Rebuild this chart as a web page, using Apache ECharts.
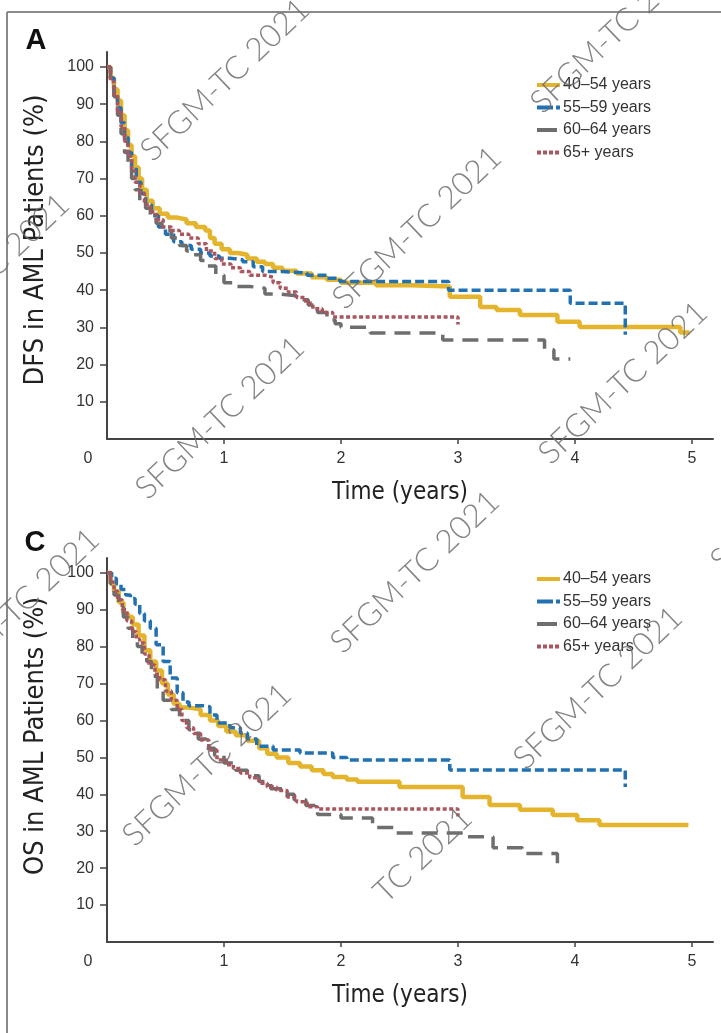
<!DOCTYPE html>
<html>
<head>
<meta charset="utf-8">
<script src="https://cdn.jsdelivr.net/npm/echarts@6/dist/echarts.min.js"></script>
<style>
  html, body { margin: 0; padding: 0; background: #fff; }
  #chart { width: 721px; height: 1033px; }
</style>
</head>
<body>
<div id="chart"></div>
<script>
// Age groups (legend entries)
const groupNames = ['40–54 years', '55–59 years', '60–64 years', '65+ years'];
const xTicks = [0, 1, 2, 3, 4, 5];
const yTicks = [10, 20, 30, 40, 50, 60, 70, 80, 90, 100];

// Disease-free survival, Kaplan–Meier steps: [years, %]
const dfs4054 = [[0,100],[0.03,97],[0.06,94],[0.09,91],[0.12,87],[0.15,83],[0.18,79],[0.21,76],[0.24,73],[0.27,70],[0.30,67],[0.34,64],[0.39,62],[0.45,60.5],[0.52,59.5],[0.60,59],[0.68,58],[0.76,57],[0.84,56],[0.88,54],[0.92,52.5],[0.98,51],[1.05,50],[1.12,49.5],[1.20,48.5],[1.28,47.6],[1.35,47],[1.42,46],[1.50,45.2],[1.62,44.5],[1.75,43.5],[1.88,42.8],[2.0,42],[2.3,41.3],[2.6,41],[2.93,38.2],[3.19,35.5],[3.33,34.7],[3.53,33.3],[3.85,31.5],[4.04,30.1],[4.90,28.6],[4.98,28.6]];
const dfs5559 = [[0,100],[0.03,97],[0.06,93],[0.09,89],[0.12,85],[0.15,81],[0.18,77],[0.21,73],[0.25,69],[0.29,66],[0.33,63],[0.38,60],[0.44,57],[0.50,55],[0.57,53],[0.64,52],[0.72,51],[0.80,50],[0.88,49.2],[0.96,48.6],[1.05,48.2],[1.16,47.6],[1.25,46.3],[1.33,45],[1.50,44.6],[1.71,44],[1.88,43.2],[1.99,42.3],[2.92,40],[3.96,36.5],[4.43,28]];
const dfs6064 = [[0,100],[0.03,96],[0.06,92],[0.09,87],[0.12,82],[0.15,77],[0.18,73],[0.21,70],[0.24,67],[0.28,64],[0.33,62],[0.37,60],[0.42,58],[0.47,56],[0.55,54],[0.62,52],[0.68,50.5],[0.74,49.5],[0.80,48],[0.86,46.5],[0.93,44],[1.0,42],[1.1,41],[1.22,40.5],[1.35,39],[1.45,38.5],[1.62,37.4],[1.72,36],[1.80,34],[1.88,32],[1.95,31],[2.0,30],[2.25,28.5],[2.87,26.6],[3.74,24],[3.82,21.5],[3.96,21.5]];
const dfs65 = [[0,100],[0.03,96],[0.06,92],[0.09,88],[0.12,84],[0.15,80],[0.18,76],[0.21,72],[0.24,69],[0.28,66],[0.32,63],[0.37,61],[0.42,59],[0.48,57],[0.55,56],[0.62,55],[0.70,54],[0.78,52.5],[0.85,50.5],[0.92,48.5],[0.98,47],[1.06,46],[1.14,45],[1.22,44],[1.35,43.5],[1.42,42],[1.48,40.5],[1.55,39.5],[1.62,38],[1.70,36.5],[1.76,35],[1.84,34],[1.93,32.8],[3.0,30.8]];

// Overall survival, Kaplan–Meier steps: [years, %]
const os4054 = [[0,100],[0.03,97],[0.06,95],[0.10,92],[0.14,89],[0.18,88],[0.22,86],[0.27,83],[0.32,79],[0.37,76],[0.42,73.5],[0.47,70],[0.52,67],[0.57,64.5],[0.62,63.5],[0.70,63],[0.80,61.5],[0.88,60],[0.95,58.5],[1.02,57],[1.10,56],[1.20,54.5],[1.30,52.5],[1.37,51],[1.45,50],[1.55,48.5],[1.65,47.5],[1.75,46.5],[1.85,45.5],[1.93,44.7],[2.05,44],[2.14,43.4],[2.5,42],[3.04,39.3],[3.27,37.1],[3.53,35.8],[3.81,34.4],[4.02,33],[4.21,31.7],[4.97,31.7]];
const os5559 = [[0,100],[0.04,98.5],[0.08,97],[0.12,95.5],[0.16,94],[0.20,93],[0.24,91.5],[0.28,89],[0.32,87],[0.37,85],[0.42,80.5],[0.48,76],[0.54,71.5],[0.60,67.5],[0.65,65],[0.70,64],[0.82,63.7],[0.88,61.5],[0.94,59.3],[1.05,58],[1.14,56.6],[1.20,55],[1.28,53],[1.42,52],[1.65,51.2],[1.93,50],[2.05,49.3],[2.93,46.6],[4.43,42]];
const os6064 = [[0,100],[0.03,97],[0.06,94],[0.10,91],[0.14,88],[0.18,85],[0.22,82],[0.26,80],[0.30,78],[0.34,76],[0.38,72],[0.43,68],[0.48,65.5],[0.55,63],[0.62,60],[0.70,57.5],[0.78,55],[0.85,52.5],[0.92,50.5],[1.0,48.5],[1.1,46.5],[1.2,45],[1.3,43.5],[1.4,41.5],[1.5,40],[1.6,38.5],[1.7,37],[1.8,34.5],[2.0,33.6],[2.27,31],[2.45,29.5],[3.05,28.5],[3.3,25.5],[3.55,24],[3.85,20.5],[3.88,20.5]];
const os65 = [[0,100],[0.03,97.5],[0.06,95],[0.09,92.7],[0.13,90],[0.17,87],[0.21,84],[0.25,82],[0.28,81],[0.32,78],[0.36,75],[0.41,72.5],[0.45,71],[0.50,68],[0.55,65.5],[0.60,63],[0.64,60],[0.68,58],[0.74,56.5],[0.80,54.7],[0.87,52],[0.94,49.3],[1.02,48],[1.08,47],[1.14,45.8],[1.22,44.5],[1.30,43],[1.37,42],[1.45,41],[1.54,39.3],[1.62,38],[1.71,36.6],[1.80,36],[3.0,34]];

// Watermark stamps: [centerX, centerY, text]
const stamps = [
  [225, 80, 'SFGM-TC 2021'],
  [-15, 275, 'SFGM-TC 2021'],
  [417, 228, 'SFGM-TC 2021'],
  [615, 32, 'SFGM-TC 2021'],
  [220, 418, 'SFGM-TC 2021'],
  [623, 383, 'SFGM-TC 2021'],
  [415, 572, 'SFGM-TC 2021'],
  [598, 688, 'SFGM-TC 2021'],
  [207, 765, 'SFGM-TC 2021'],
  [15, 610, 'SFGM-TC 2021'],
  [423, 855, 'TC 2021'],
  [795, 490, 'SFGM-TC 2021']
];

const styles = [
  { color: '#E3B42C', width: 4.5, type: 'solid',  icon: 'path://M0,0H23V4H0Z' },
  { color: '#2271B0', width: 3.5, type: [9, 4],   icon: 'path://M0,0H16V4H0Z M19,0H23V4H19Z' },
  { color: '#6E6E6E', width: 3.5, type: [16, 9],  icon: 'path://M0,0H20V4H0Z M22.9,0H23V4H22.9Z' },
  { color: '#A9565E', width: 3.5, type: [4, 2.5], icon: 'path://M0,0H4V4H0Z M6,0H10V4H6Z M12,0H16V4H12Z M18,0H22V4H18Z M22.9,0H23V4H22.9Z' }
];

const tickFont = 'Liberation Sans, Arial, sans-serif';
const titleFont = '"Liberation Sans Narrow", "DejaVu Sans Condensed", "Liberation Sans", sans-serif';

function xAxisFor(gridIndex) {
  return {
    type: 'value', gridIndex, min: 0, max: 5.18, interval: 1,
    name: 'Time (years)', nameLocation: 'middle', nameGap: 42,
    nameTextStyle: { fontFamily: titleFont, fontSize: 24, color: '#222', padding: [0, 20, 0, 0] },
    axisLine: { lineStyle: { color: '#444', width: 2 } },
    axisTick: { show: true, length: 5, lineStyle: { color: '#444', width: 1.5 },
      customValues: xTicks.filter(v => v > 0) },
    axisLabel: {
      fontFamily: tickFont, fontSize: 16, color: '#333', margin: 12,
      customValues: xTicks,
      formatter: v => v === 0 ? '{z|0}' : String(v),
      rich: { z: { fontFamily: tickFont, fontSize: 16, color: '#333', padding: [0, 38, 0, 0] } }
    },
    splitLine: { show: false }
  };
}

function yAxisFor(gridIndex) {
  return {
    type: 'value', gridIndex, min: 0, max: 104, interval: 10,
    axisLine: { show: true, lineStyle: { color: '#444', width: 2 } },
    axisTick: { show: true, length: 7, lineStyle: { color: '#444', width: 1.5 }, customValues: yTicks },
    axisLabel: { fontFamily: tickFont, fontSize: 16, color: '#333', margin: 13, customValues: yTicks },
    splitLine: { show: false }
  };
}

function seriesFor(idx, list) {
  return list.map((data, i) => ({
    type: 'line', name: groupNames[i], xAxisIndex: idx, yAxisIndex: idx,
    data, step: 'end', showSymbol: false, symbol: 'none', animation: false,
    lineStyle: { color: styles[i].color, width: styles[i].width, type: styles[i].type, cap: 'butt' },
    itemStyle: { color: styles[i].color },
    z: 2 + i
  }));
}

function legendFor(top) {
  return {
    orient: 'vertical', left: 537, top, padding: 0, itemWidth: 23, itemHeight: 4, itemGap: 4.5,
    selectedMode: false,
    textStyle: { fontFamily: tickFont, fontSize: 16, color: '#333', lineHeight: 18, padding: [0, 0, 0, -2] },
    data: groupNames.map((n, i) => ({ name: n, icon: styles[i].icon, itemStyle: { color: styles[i].color } }))
  };
}

function label(text, x, y, opts) {
  return Object.assign({ type: 'text', x, y, silent: true,
    style: Object.assign({ text, fill: '#111', align: 'center', verticalAlign: 'middle' }, opts.style) },
    opts.rotation ? { rotation: opts.rotation } : {}, opts.z ? { z: opts.z } : {});
}

const chart = echarts.init(document.getElementById('chart'), null, { renderer: 'canvas' });

const graphics = [
  { type: 'line', shape: { x1: 7, y1: 12, x2: 721, y2: 12 }, style: { stroke: '#8a8a8a', lineWidth: 2 }, silent: true },
  { type: 'line', shape: { x1: 7, y1: 12, x2: 7, y2: 1033 }, style: { stroke: '#8a8a8a', lineWidth: 2 }, silent: true },
  label('A', 36, 41, { style: { fontFamily: tickFont, fontWeight: 'bold', fontSize: 29 } }),
  label('C', 35, 543, { style: { fontFamily: tickFont, fontWeight: 'bold', fontSize: 29 } }),
  label('DFS in AML Patients (%)', 36, 240, { rotation: Math.PI / 2, style: { fontFamily: titleFont, fontSize: 27, fill: '#222' } }),
  label('OS in AML Patients (%)', 36, 736, { rotation: Math.PI / 2, style: { fontFamily: titleFont, fontSize: 27, fill: '#222' } })
].concat(stamps.map(s => label(s[2], s[0], s[1], {
  rotation: 0.76, z: 100,
  style: { fontFamily: 'Lato, "Open Sans", sans-serif', fontWeight: 300, fontSize: 32, fill: 'rgba(110,110,110,0.85)' }
})));

chart.setOption({
  backgroundColor: '#fff',
  animation: false,
  grid: [
    { left: 107, top: 52, width: 606, height: 387 },
    { left: 107, top: 558, width: 606, height: 384 }
  ],
  xAxis: [xAxisFor(0), xAxisFor(1)],
  yAxis: [yAxisFor(0), yAxisFor(1)],
  legend: [legendFor(76), legendFor(570)],
  series: seriesFor(0, [dfs4054, dfs5559, dfs6064, dfs65]).concat(seriesFor(1, [os4054, os5559, os6064, os65])),
  graphic: graphics
});
</script>
</body>
</html>
